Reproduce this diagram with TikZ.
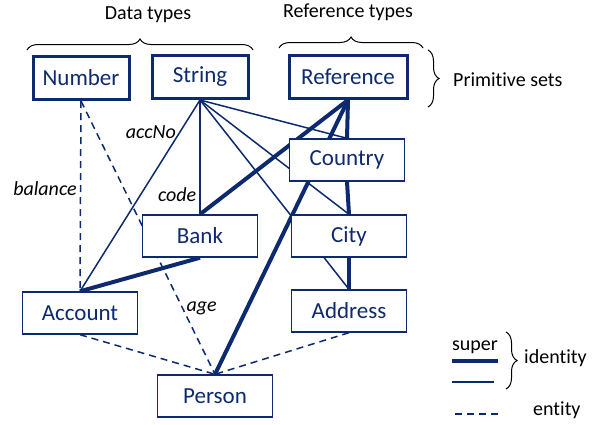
\documentclass[tikz,border=0pt]{standalone}
\usepackage{fontspec}
\setmainfont{Carlito}[Ligatures=NoCommon]
\usetikzlibrary{backgrounds}
\usetikzlibrary{decorations.pathreplacing}
\definecolor{navy}{HTML}{0D2A6E}

\begin{document}
\begin{tikzpicture}[
        x=1pt, y=-1pt,
        ent/.style={draw=navy, line width=1.4pt, fill=white, text=navy,
            minimum width=115pt, minimum height=42pt, inner sep=0pt,
            font=\fontsize{23}{25}\selectfont},
        prim/.style={ent, line width=3pt, minimum width=96pt, minimum height=43pt},
        super/.style={draw=navy, line width=4pt},
        ident/.style={draw=navy, line width=1.5pt},
        entity/.style={draw=navy, line width=1.5pt, dash pattern=on 7pt off 5pt},
        lbl/.style={font=\fontsize{20}{22}\selectfont\itshape, inner sep=3pt},
        txt/.style={font=\fontsize{20}{22}\selectfont, inner sep=0pt},
        brc/.style={decorate, decoration={brace, amplitude=11pt}, line width=1pt}
    ]
    \useasboundingbox (0,0) rectangle (593,424);

    % primitive sets
    \node[prim] (Number) at (81,78) {Number};
    \node[prim] (String) at (200,77) {String};
    \node[prim, minimum width=118pt] (Reference) at (348,77) {Reference};

    % entities
    \node[ent] (Country) at (347,160) {Country};
    \node[ent] (Bank) at (200,236) {Bank};
    \node[ent] (City) at (349,236) {City};
    \node[ent] (Account) at (80,313) {Account};
    \node[ent] (Address) at (349,311) {Address};
    \node[ent] (Person) at (215,396) {Person};

    \begin{scope}[on background layer]
        % identity
        \draw[ident] (String.south) -- node[lbl, left, pos=0.17] {accNo} (Account.north);
        \draw[ident] (String.south) -- node[lbl, left, pos=0.83] {code} (Bank.north);
        \draw[ident] (String.south) -- (Country.north);
        \draw[ident] (String.south) -- (City.north);
        \draw[ident] (String.south) -- (Address.north);
        % super
        \draw[super] (Reference.south) -- (Bank.north);
        \draw[super] (Reference.south) -- (Person.north);
        \draw[super] (Reference.south) -- (Country.north);
        \draw[super] (Country.south) -- (City.north);
        \draw[super] (City.south) -- (Address.north);
        \draw[super] (Bank.south) -- (Account.north);
        % entity
        \draw[entity] (Number.south) -- node[lbl, left, pos=0.46] {balance} (Account.north);
        \draw[entity] (Number.south) -- node[lbl, right, pos=0.76] {age} (Person.north);
        \draw[entity] (Account.south) -- (Person.north);
        \draw[entity] (Address.south) -- (Person.north);
    \end{scope}

    % braces
    \draw[brc] (27,50) -- (253,50);
    \node[txt] (datatypes) at (148,15) {Data types};
    \draw[brc] (279,48) -- (423,48);
    \node[txt] (reftypes) at (348,12) {Reference types};
    \draw[brc] (428,50) -- (428,107);
    \node[txt, anchor=west] (primsets) at (453,80) {Primitive sets};

    % legend
    \coordinate (s1) at (452,361);
    \coordinate (s2) at (498,361);
    \coordinate (i1) at (452,382);
    \coordinate (i2) at (494,382);
    \coordinate (e1) at (455,414);
    \coordinate (e2) at (498,414);
    \draw[super] (s1) -- node[txt, above=5pt] {super} (s2);
    \draw[ident] (i1) -- (i2);
    \draw[entity] (e1) -- (e2);
    \draw[brc] (506,332) -- (506,389);
    \node[txt, anchor=west] (identity) at (524,358) {identity};
    \node[txt, anchor=west] (entitylbl) at (533,410) {entity};
\end{tikzpicture}
\end{document}
